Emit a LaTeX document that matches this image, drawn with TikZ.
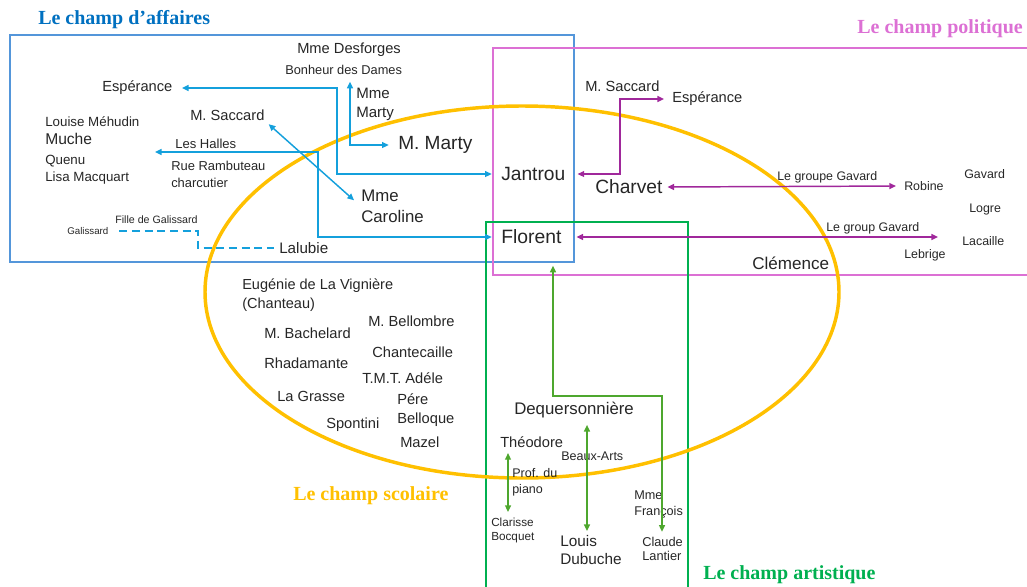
\documentclass[tikz,border=0pt]{standalone}
\usepackage{fontspec}
\setmainfont{Liberation Sans}
\newfontfamily\titlefont{Liberation Serif}
\usetikzlibrary{arrows.meta}
\definecolor{bbox}{RGB}{84,150,218}
\definecolor{barrc}{RGB}{20,160,220}
\definecolor{pbox}{RGB}{220,112,212}
\definecolor{parrc}{RGB}{160,40,155}
\definecolor{gbox}{RGB}{0,176,80}
\definecolor{garrc}{RGB}{78,167,46}
\definecolor{ybox}{RGB}{255,192,0}
\definecolor{tblue}{RGB}{0,112,192}
\definecolor{txt}{RGB}{38,38,38}
\newcommand\myfs[2]{\fontsize{#1}{#2}\selectfont}
\begin{document}
\begin{tikzpicture}[x=0.75pt,y=-0.75pt,
  lbl/.style={inner sep=0pt,anchor=west,align=left,text=txt},
  ttl/.style={inner sep=0pt,anchor=west,font=\titlefont\bfseries\myfs{15}{18}},
  boxline/.style={line width=1.9pt},
  arr/.style={line width=1.1pt,{Triangle[length=5pt,width=4.5pt]}-{Triangle[length=5pt,width=4.5pt]}},
  barr/.style={arr,draw=barrc},
  parr/.style={arr,draw=parrc},
  garr/.style={arr,draw=garrc}]
\useasboundingbox (0,0) rectangle (1027,586);
\clip (0,0) rectangle (1027,586);
% fields
\draw[boxline,draw=bbox] (10,35) rectangle (574,262);
\draw[boxline,draw=pbox] (493,48) rectangle (1032,275);
\draw[boxline,draw=gbox] (486,222) rectangle (688,595);
\draw[line width=2.6pt,draw=ybox] (522,292) ellipse [x radius=317,y radius=186];
% titles
\node[ttl,text=tblue] (t1) at (38,20) {Le champ d’affaires};
\node[ttl,text=pbox] (t2) at (857,29) {Le champ politique};
\node[ttl,text=ybox] (t3) at (293,496) {Le champ scolaire};
\node[ttl,text=gbox] (t4) at (703,575) {Le champ artistique};
% affaires
\node[lbl,font=\myfs{11}{13}] (mdesf) at (297,50) {Mme Desforges};
\node[lbl,font=\myfs{9.6}{12}] (bdd) at (285,70) {Bonheur des Dames};
\node[lbl,font=\myfs{11}{13}] (esp1) at (102,88) {Espérance};
\node[lbl,font=\myfs{11.3}{14.25}] (mmarty) at (356,104.5) {Mme\\Marty};
\node[lbl,font=\myfs{11}{13}] (sacc1) at (190,115) {M. Saccard};
\node[lbl,font=\myfs{10}{12}] (louise) at (45,122) {Louise Méhudin};
\node[lbl,font=\myfs{11.7}{14}] (muche) at (45,139) {Muche};
\node[lbl,font=\myfs{10}{12.75}] (quenu) at (45,169.5) {Quenu\\Lisa Macquart};
\node[lbl,font=\myfs{9.8}{12}] (halles) at (175,144) {Les Halles};
\node[lbl,font=\myfs{9.7}{12.75}] (rambu) at (171,174.5) {Rue Rambuteau\\charcutier};
\node[lbl,font=\myfs{14.3}{17}] (marty) at (398,145) {M. Marty};
\node[lbl,font=\myfs{12.6}{15.75}] (caro) at (361,206.5) {Mme\\Caroline};
\node[lbl,font=\myfs{14.4}{17}] (jan) at (501,174) {Jantrou};
\node[lbl,font=\myfs{14.5}{17}] (flo) at (501,237) {Florent};
\node[lbl,font=\myfs{8}{10}] (fille) at (115,220) {Fille de Galissard};
\node[lbl,font=\myfs{7.3}{9}] (galiss) at (67,231) {Galissard};
\node[lbl,font=\myfs{11.4}{14}] (lal) at (279,248) {Lalubie};
% politique
\node[lbl,font=\myfs{11}{13}] (sacc2) at (585,86) {M. Saccard};
\node[lbl,font=\myfs{11}{13}] (esp2) at (672,99) {Espérance};
\node[lbl,font=\myfs{14.4}{17}] (char) at (595,187) {Charvet};
\node[lbl,font=\myfs{9.3}{11}] (lgg1) at (777,177) {Le groupe Gavard};
\node[lbl,font=\myfs{9.3}{11}] (rob) at (904,186) {Robine};
\node[lbl,font=\myfs{9.3}{11}] (gav) at (964,174) {Gavard};
\node[lbl,font=\myfs{9.3}{11}] (logre) at (969,210) {Logre};
\node[lbl,font=\myfs{9.3}{11}] (lacaille) at (962,241) {Lacaille};
\node[lbl,font=\myfs{9.3}{11}] (lgg2) at (826,228) {Le group Gavard};
\node[lbl,font=\myfs{9.3}{11}] (lebrige) at (904,255) {Lebrige};
\node[lbl,font=\myfs{12.8}{15}] (clem) at (752,263) {Clémence};
% scolaire
\node[lbl,font=\myfs{10.9}{14.25}] (eug) at (242,295.5) {Eugénie de La Vignière\\(Chanteau)};
\node[lbl,font=\myfs{11}{13}] (bach) at (264,333) {M. Bachelard};
\node[lbl,font=\myfs{11}{13}] (bell) at (368,321) {M. Bellombre};
\node[lbl,font=\myfs{11}{13}] (chant) at (372,352) {Chantecaille};
\node[lbl,font=\myfs{11}{13}] (rhad) at (264,363) {Rhadamante};
\node[lbl,font=\myfs{11}{13}] (tmt) at (362,378) {T.M.T. Adéle};
\node[lbl,font=\myfs{11}{13}] (grasse) at (277,396) {La Grasse};
\node[lbl,font=\myfs{11}{14.25}] (pere) at (397,410.5) {Pére\\Belloque};
\node[lbl,font=\myfs{11}{13}] (spont) at (326,425) {Spontini};
\node[lbl,font=\myfs{11}{13}] (mazel) at (400,442) {Mazel};
% artistique
\node[lbl,font=\myfs{12.6}{15}] (deq) at (514,410) {Dequersonnière};
\node[lbl,font=\myfs{11}{13}] (theo) at (500,442) {Théodore};
\node[lbl,font=\myfs{9.4}{11}] (beaux) at (561,456) {Beaux-Arts};
\node[lbl,font=\myfs{9.4}{12}] (prof) at (512,482) {Prof. du\\piano};
\node[lbl,font=\myfs{8.8}{10.5}] (clar) at (491,530) {Clarisse\\Bocquet};
\node[lbl,font=\myfs{11.5}{13.5}] (louis) at (560,550) {Louis\\Dubuche};
\node[lbl,font=\myfs{9.5}{12}] (mfr) at (634,504) {Mme\\François};
\node[lbl,font=\myfs{9.6}{10.5}] (claude) at (642,549) {Claude\\Lantier};
% bend coordinates
\coordinate (k1) at (337,130);
\coordinate (k2) at (350,120);
\coordinate (hallesL) at (155,152);
\coordinate (k4) at (318,200);
\coordinate (k5) at (198,240);
\coordinate (k6) at (620,140);
\coordinate (p3e) at (938,0);
\coordinate (k7) at (553,330);
\coordinate (k8) at (600,396);
\coordinate (k9) at (508,480);
\coordinate (k10) at (587,480);
\coordinate (k11) at (662,480);
% blue connectors
\draw[barr,shorten <=7pt,shorten >=7pt] (esp1.east) -| (k1) |- (jan.west);
\draw[barr,shorten <=5pt,shorten >=7pt] (k2 |- bdd.south) |- (marty.west);
\draw[barr,shorten <=4pt,shorten >=7pt] (sacc1.south east) -- (caro.west);
\draw[barr,shorten >=7pt] (hallesL) -| (k4) |- (flo.west);
\draw[line width=1.1pt,draw=barrc,dash pattern=on 6pt off 3.5pt,shorten <=8pt,shorten >=4pt] (galiss.east) -| (k5) |- (lal.west);
% purple connectors
\draw[parr,shorten <=9pt,shorten >=6pt] (jan.east) -| (k6) |- (esp2.west);
\draw[parr,shorten <=3.5pt,shorten >=6pt] (char.east) -- (rob.west);
\draw[parr,shorten <=11pt] (flo.east) -- (flo.east -| p3e);
% green connectors
\draw[garr,shorten <=16pt,shorten >=4pt] (k7 |- flo.south) |- (k8) -| (k11 |- claude.north);
\draw[garr,shorten <=4pt,shorten >=4pt] (k9 |- theo.south) -- (k9 |- clar.north);
\draw[garr,shorten <=5pt,shorten >=3pt] (k10 |- deq.south) -- (k10 |- louis.north);
\end{tikzpicture}
\end{document}
